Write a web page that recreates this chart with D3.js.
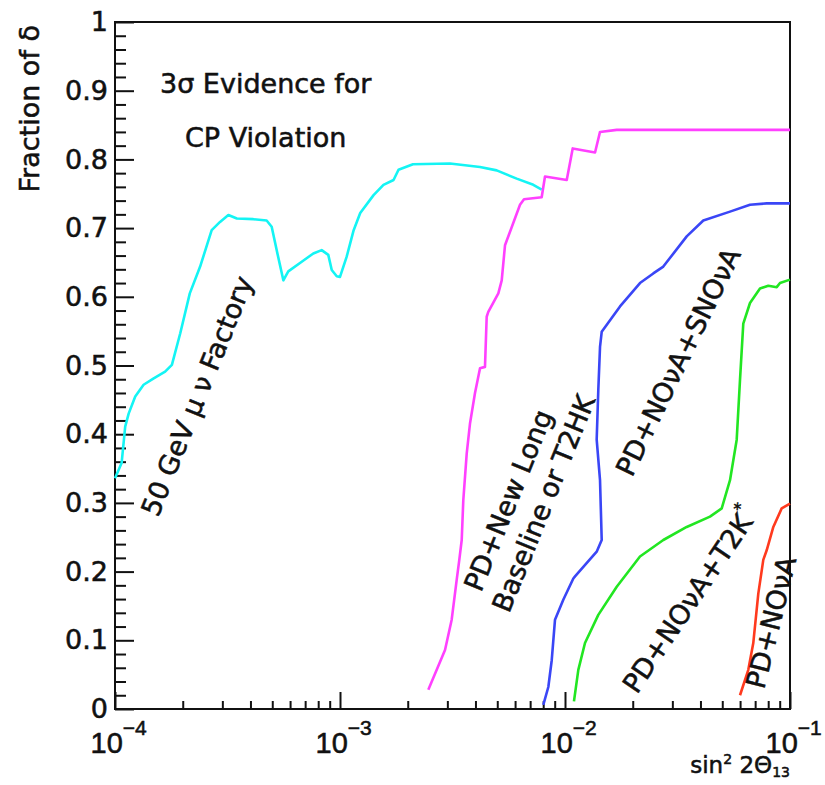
<!DOCTYPE html>
<html>
<head>
<meta charset="utf-8">
<script src="https://cdn.jsdelivr.net/npm/d3@7"></script>
<style>
  html, body { margin: 0; padding: 0; background: #fff; }
  svg { display: block; font-family: "DejaVu Sans", sans-serif; }
  svg text { stroke: #111; stroke-width: 0.55px; paint-order: fill; }
</style>
</head>
<body>
<svg id="chart" width="825" height="785"></svg>
<script>
// ---- Data: fraction of delta with 3 sigma CP-violation sensitivity vs sin^2 2theta13 ----
const nuFactory = [
  [1.00e-4, 0.336], [1.07e-4, 0.358], [1.11e-4, 0.411], [1.15e-4, 0.430], [1.23e-4, 0.455],
  [1.34e-4, 0.472], [1.48e-4, 0.481], [1.67e-4, 0.491], [1.79e-4, 0.501], [1.95e-4, 0.547],
  [2.15e-4, 0.605], [2.39e-4, 0.644], [2.69e-4, 0.697], [2.93e-4, 0.709], [3.19e-4, 0.719],
  [3.48e-4, 0.714], [4.12e-4, 0.713], [4.72e-4, 0.711], [4.97e-4, 0.702], [5.23e-4, 0.668],
  [5.60e-4, 0.624], [5.89e-4, 0.637], [6.76e-4, 0.651], [7.61e-4, 0.663], [8.29e-4, 0.668],
  [8.87e-4, 0.661], [9.19e-4, 0.639], [9.67e-4, 0.630], [1.00e-3, 0.629], [1.07e-3, 0.658],
  [1.15e-3, 0.697], [1.23e-3, 0.722], [1.41e-3, 0.748], [1.56e-3, 0.763], [1.73e-3, 0.770],
  [1.82e-3, 0.785], [2.11e-3, 0.793], [3.08e-3, 0.794], [4.19e-3, 0.789], [4.97e-3, 0.784],
  [6.10e-3, 0.772], [7.23e-3, 0.763], [7.88e-3, 0.756]
];

const newLongBaseline = [
  [2.469e-3, 0.028], [2.929e-3, 0.086], [3.136e-3, 0.130], [3.301e-3, 0.188], [3.390e-3, 0.217],
  [3.475e-3, 0.246], [3.532e-3, 0.304], [3.658e-3, 0.372], [3.784e-3, 0.416], [3.981e-3, 0.460],
  [4.191e-3, 0.496], [4.409e-3, 0.498], [4.487e-3, 0.571], [4.561e-3, 0.578], [5.055e-3, 0.605],
  [5.233e-3, 0.624], [5.412e-3, 0.675], [6.310e-3, 0.734], [6.574e-3, 0.742], [7.877e-3, 0.745],
  [8.149e-3, 0.775], [1.018e-2, 0.770], [1.082e-2, 0.816], [1.360e-2, 0.810], [1.431e-2, 0.840],
  [1.698e-2, 0.843], [1.00e-1, 0.843]
];

const novaSnova = [
  [8.010e-3, 0.006], [8.431e-3, 0.032], [8.730e-3, 0.071], [9.028e-3, 0.130], [9.827e-3, 0.159],
  [1.089e-2, 0.190], [1.108e-2, 0.193], [1.383e-2, 0.229], [1.456e-2, 0.246], [1.431e-2, 0.333],
  [1.383e-2, 0.392], [1.406e-2, 0.464], [1.431e-2, 0.527], [1.456e-2, 0.549], [1.756e-2, 0.586],
  [2.154e-2, 0.620], [2.468e-2, 0.634], [2.735e-2, 0.644], [3.475e-2, 0.688], [4.118e-2, 0.711],
  [5.412e-2, 0.724], [6.640e-2, 0.734], [7.877e-2, 0.736], [1.00e-1, 0.736]
];

const novaT2k = [
  [1.096e-2, 0.011], [1.146e-2, 0.057], [1.227e-2, 0.096], [1.406e-2, 0.137], [1.698e-2, 0.178],
  [2.154e-2, 0.222], [2.735e-2, 0.246], [3.475e-2, 0.265], [4.409e-2, 0.280], [4.972e-2, 0.292],
  [5.412e-2, 0.333], [5.796e-2, 0.392], [5.995e-2, 0.479], [6.200e-2, 0.561], [6.640e-2, 0.591],
  [7.356e-2, 0.612], [8.010e-2, 0.616], [8.730e-2, 0.614], [9.028e-2, 0.620], [1.00e-1, 0.625]
];

const novaOnly = [
  [5.995e-2, 0.020], [6.527e-2, 0.057], [6.868e-2, 0.096], [7.230e-2, 0.168], [7.608e-2, 0.217],
  [7.877e-2, 0.231], [8.431e-2, 0.265], [9.183e-2, 0.292], [1.00e-1, 0.299]
];

const seriesColors = ["#14f4f4", "#ff40ff", "#3a46f6", "#22e622", "#ff3a1e"];

const xMajorTicks = [1e-4, 1e-3, 1e-2, 1e-1];
const xTickExponents = ["\u22124", "\u22123", "\u22122", "\u22121"];
const yMajorTicks = [0, 0.1, 0.2, 0.3, 0.4, 0.5, 0.6, 0.7, 0.8, 0.9, 1];
const yTickLabels = ["0", "0.1", "0.2", "0.3", "0.4", "0.5", "0.6", "0.7", "0.8", "0.9", "1"];

// ---- Layout ----
const svg = d3.select("#chart");
const plot = { left: 115, right: 790, top: 22, bottom: 709 };
const x = d3.scaleLog().domain([1e-4, 1e-1]).range([plot.left, plot.right]);
const y = d3.scaleLinear().domain([0, 1]).range([plot.bottom, plot.top]);
const black = "#111";

// minor x ticks at 2..9 of each decade
const xMinor = [];
for (let e = -4; e < -1; e++) for (let m = 2; m <= 9; m++) xMinor.push(m * Math.pow(10, e));
// minor y ticks every 0.02
const yMinor = d3.range(0, 51).map(i => i / 50).filter(v => Math.round(v * 50) % 5 !== 0);

// y axis: ticks pointing into the plot
const yAxisMinor = d3.axisLeft(y).tickValues(yMinor).tickSize(-11).tickSizeOuter(0).tickFormat("");
const yAxis = d3.axisLeft(y).tickValues(yMajorTicks).tickSize(-19).tickSizeOuter(0).tickPadding(7)
  .tickFormat((d, i) => yTickLabels[i]);

const gyMinor = svg.append("g").attr("transform", `translate(${plot.left},0)`).call(yAxisMinor);
const gy = svg.append("g").attr("transform", `translate(${plot.left},0)`).call(yAxis);

// x axis
const xAxisMinor = d3.axisBottom(x).tickValues(xMinor).tickSize(-8).tickSizeOuter(0).tickFormat("");
const xAxis = d3.axisBottom(x).tickValues(xMajorTicks).tickSize(-17).tickSizeOuter(0).tickFormat("");
const gxMinor = svg.append("g").attr("transform", `translate(0,${plot.bottom})`).call(xAxisMinor);
const gx = svg.append("g").attr("transform", `translate(0,${plot.bottom})`).call(xAxis);

[gyMinor, gy, gxMinor, gx].forEach(g => {
  g.selectAll(".domain").remove();
  g.selectAll(".tick line").attr("stroke", black).attr("stroke-width", 2);
});
gy.selectAll(".tick text")
  .attr("font-size", 27).attr("font-family", "DejaVu Sans").attr("fill", black);

// decade labels as 10 with a raised exponent
gx.selectAll(".tick").each(function (d, i) {
  const t = d3.select(this).append("text")
    .attr("x", -25).attr("y", 44)
    .attr("text-anchor", "start")
    .attr("font-size", 29).attr("font-family", "Liberation Sans").attr("fill", black);
  t.append("tspan").text("10");
  t.append("tspan").attr("font-size", 21).attr("dy", -18).text(xTickExponents[i]);
});

// frame
svg.append("rect")
  .attr("x", plot.left).attr("y", plot.top)
  .attr("width", plot.right - plot.left).attr("height", plot.bottom - plot.top)
  .attr("fill", "none").attr("stroke", black).attr("stroke-width", 2);

// curves
const line = d3.line().x(d => x(d[0])).y(d => y(d[1]));
const allSeries = [nuFactory, newLongBaseline, novaSnova, novaT2k, novaOnly];
svg.append("g").selectAll("path").data(allSeries).join("path")
  .attr("d", line)
  .attr("fill", "none")
  .attr("stroke", (d, i) => seriesColors[i])
  .attr("stroke-width", 2.6)
  .attr("stroke-linejoin", "round");

// axis titles
svg.append("text")
  .attr("transform", "translate(39,25) rotate(-90)")
  .attr("text-anchor", "end")
  .attr("font-size", 27).attr("fill", black)
  .text("Fraction of \u03b4");

const xt = svg.append("text")
  .attr("x", plot.right).attr("y", 773)
  .attr("text-anchor", "end")
  .attr("font-size", 23).attr("fill", black);
xt.append("tspan").text("sin");
xt.append("tspan").attr("font-size", 14).attr("dy", -9).text("2");
xt.append("tspan").attr("dy", 9).text(" 2\u0398");
xt.append("tspan").attr("font-size", 14).attr("dy", 4).text("13");

// heading
svg.append("text").attr("x", 160).attr("y", 93).attr("font-size", 27).attr("fill", black)
  .text("3\u03c3 Evidence for");
svg.append("text").attr("x", 185).attr("y", 147).attr("font-size", 27).attr("fill", black)
  .text("CP Violation");

// curve labels, rotated along each curve
const curveLabels = [
  { lines: ["50 GeV \u03bc \u03bd Factory"], starts: [[158, 518]], angle: -68 },
  { lines: ["PD+New Long", "Baseline or T2HK"], starts: [[481, 593], [509, 614]], angle: -68 },
  { lines: ["PD+NO\u03bdA+SNO\u03bdA"], starts: [[632, 478]], angle: -64 },
  { lines: ["PD+NO\u03bdA+T2K"], starts: [[637, 695]], angle: -56, sup: "*" },
  { lines: ["PD+NO\u03bdA"], starts: [[764, 690]], angle: -76 }
];
curveLabels.forEach(lbl => {
  lbl.lines.forEach((txt, k) => {
    const [px, py] = lbl.starts[k];
    const t = svg.append("text")
      .attr("transform", `translate(${px},${py}) rotate(${lbl.angle})`)
      .attr("font-size", 27).attr("fill", black);
    t.append("tspan").text(txt);
    if (lbl.sup) t.append("tspan").attr("font-size", 16).attr("dy", -14).text(lbl.sup);
  });
});
</script>
</body>
</html>
